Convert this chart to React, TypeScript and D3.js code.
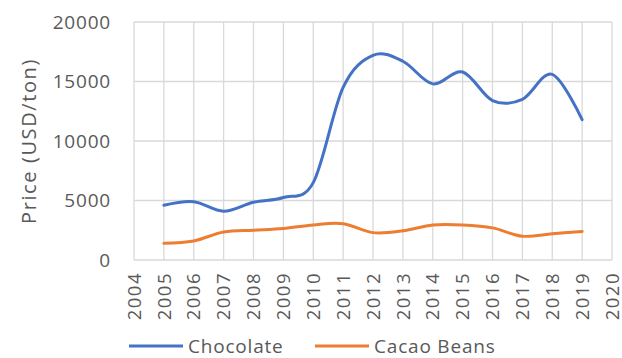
import React, { useRef, useEffect } from 'react';
import * as d3 from 'd3';

const years = [2005, 2006, 2007, 2008, 2009, 2010, 2011, 2012, 2013, 2014, 2015, 2016, 2017, 2018, 2019];
const chocolate = [4600, 4900, 4100, 4850, 5250, 6500, 14500, 17200, 16700, 14800, 15800, 13400, 13500, 15600, 11800];
const cacaoBeans = [1400, 1600, 2350, 2500, 2650, 2950, 3050, 2300, 2450, 2950, 2950, 2700, 2000, 2200, 2400];
const xTicks = d3.range(2004, 2021);
const yTicks = [0, 5000, 10000, 15000, 20000];

const WIDTH = 622;
const HEIGHT = 358;
const FONT = "'Open Sans', sans-serif";

const App: React.FC = () => {
  const svgRef = useRef<SVGSVGElement>(null);

  useEffect(() => {
    if (!svgRef.current) return;
    const svg = d3.select(svgRef.current);
    svg.selectAll('*').remove();

    const margin = { top: 22, right: 10, bottom: 98, left: 134 };
    const x = d3.scaleLinear().domain([2004, 2020]).range([margin.left, WIDTH - margin.right]);
    const y = d3.scaleLinear().domain([0, 20000]).range([HEIGHT - margin.bottom, margin.top]);

    // grid
    svg.append('g')
      .selectAll('line')
      .data(xTicks)
      .enter()
      .append('line')
      .attr('x1', d => x(d)).attr('x2', d => x(d))
      .attr('y1', y(0)).attr('y2', y(20000))
      .attr('stroke', '#d9d9d9').attr('stroke-width', 1.3);

    svg.append('g')
      .selectAll('line')
      .data(yTicks)
      .enter()
      .append('line')
      .attr('x1', x(2004)).attr('x2', x(2020))
      .attr('y1', d => y(d)).attr('y2', d => y(d))
      .attr('stroke', '#d9d9d9').attr('stroke-width', 1.3);

    // y tick labels
    svg.append('g')
      .selectAll('text')
      .data(yTicks)
      .enter()
      .append('text')
      .attr('x', 111)
      .attr('y', d => y(d))
      .attr('dy', '0.36em')
      .attr('text-anchor', 'end')
      .style('font-family', FONT)
      .style('font-size', '19px')
      .style('letter-spacing', '0.8px')
      .attr('fill', '#595959')
      .text(d => d);

    // x tick labels (rotated)
    svg.append('g')
      .selectAll('text')
      .data(xTicks)
      .enter()
      .append('text')
      .attr('transform', d => `translate(${x(d)},${y(0) + 12}) rotate(-90)`)
      .attr('dy', '0.36em')
      .attr('text-anchor', 'end')
      .style('font-family', FONT)
      .style('font-size', '18.5px')
      .style('letter-spacing', '1.5px')
      .attr('fill', '#595959')
      .text(d => d);

    // y axis title
    svg.append('text')
      .attr('transform', `translate(29,${(y(0) + y(20000)) / 2}) rotate(-90)`)
      .attr('text-anchor', 'middle')
      .attr('dy', '0.36em')
      .style('font-family', FONT)
      .style('font-size', '20px')
      .style('letter-spacing', '1.6px')
      .attr('fill', '#595959')
      .text('Price (USD/ton)');

    const line = d3.line<number>()
      .x((_, i) => x(years[i]))
      .y(d => y(d))
      .curve(d3.curveCardinal.tension(0));

    svg.append('path')
      .datum(cacaoBeans)
      .attr('d', line)
      .attr('fill', 'none')
      .attr('stroke', '#ED7D31')
      .attr('stroke-width', 3)
      .attr('stroke-linecap', 'round');

    svg.append('path')
      .datum(chocolate)
      .attr('d', line)
      .attr('fill', 'none')
      .attr('stroke', '#4472C4')
      .attr('stroke-width', 3)
      .attr('stroke-linecap', 'round');

    // legend
    const legend = [
      { name: 'Chocolate', color: '#4472C4', x0: 129 },
      { name: 'Cacao Beans', color: '#ED7D31', x0: 315 },
    ];
    const lg = svg.append('g');
    legend.forEach(item => {
      lg.append('line')
        .attr('x1', item.x0).attr('x2', item.x0 + 54)
        .attr('y1', 346).attr('y2', 346)
        .attr('stroke', item.color).attr('stroke-width', 3);
      lg.append('text')
        .attr('x', item.x0 + 59)
        .attr('y', 346)
        .attr('dy', '0.36em')
        .style('font-family', FONT)
        .style('font-size', '19px')
        .style('letter-spacing', '0.8px')
        .attr('fill', '#595959')
        .text(item.name);
    });
  }, []);

  return (
    <svg
      ref={svgRef}
      width={WIDTH}
      height={HEIGHT}
      style={{ position: 'absolute', left: 0, top: 0, background: '#fff' }}
    />
  );
};

export default App;
